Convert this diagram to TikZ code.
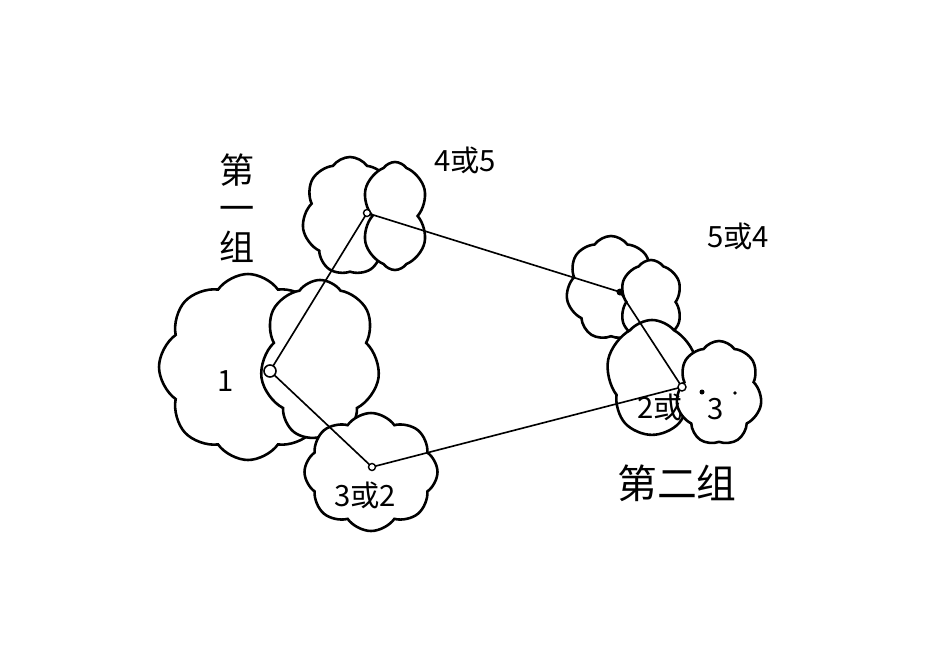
\documentclass[tikz,border=0pt]{standalone}
\usepackage{fontspec}
\newfontfamily\cjk{Noto Sans CJK SC}
\usetikzlibrary{shapes.symbols}
\begin{document}
\begin{tikzpicture}[x=0.03cm,y=-0.03cm,
    crown/.style 2 args={cloud,cloud puffs=7,cloud puff arc=110,draw,line width=2.2pt,
      fill=white,inner sep=0pt,minimum width=#1*0.03cm,minimum height=#2*0.03cm},
    link/.style={line width=1.4pt},
    lbl/.style={font=\cjk\fontsize{25}{28}\selectfont},
    grp/.style={font=\cjk\fontsize{34}{36}\selectfont,inner sep=0pt}]
  \useasboundingbox (0,0) rectangle (942,666);
  % first group
  \node[crown={178}{186},cloud puffs=8] (c1b) at (248,367) {};
  \node[crown={120}{160}] (c1f) at (320,360) {};
  \node[crown={96}{118}] (c4b) at (350,216) {};
  \node[crown={68}{108},cloud puffs=6] (c4f) at (395,216) {};
  \node[crown={133}{118},cloud puffs=8] (c3) at (371,472) {};
  % second group
  \node[crown={90}{104}] (c5b) at (611,288) {};
  \node[crown={64}{84},cloud puffs=6] (c5f) at (651,302) {};
  \node[crown={92}{114},cloud puffs=5,cloud puff arc=100] (c2b) at (652,377) {};
  \node[crown={86}{104}] (c2f) at (719,393) {};
  % centres
  \coordinate (p1) at (270,371);
  \coordinate (p4) at (367,213);
  \coordinate (p5) at (620,292);
  \coordinate (p2) at (682,387);
  \coordinate (p3) at (372,467);
  \draw[link] (p1)--(p4)--(p5)--(p2)--(p3)--cycle;
  \draw[line width=1.4pt,fill=white] (p1) circle (6);
  \draw[line width=1.2pt,fill=white] (p4) circle (3.5);
  \draw[line width=1.2pt,fill=white] (p3) circle (3.5);
  \draw[line width=1.2pt,fill=white] (p2) circle (4);
  \fill (p5) circle (3.5);
  \fill (702,392) circle (2.5);
  \fill (735,393) circle (1.8);
  % labels
  \node[lbl,font=\cjk\itshape\fontsize{25}{28}\selectfont] (l1) at (226,381) {1};
  \node[lbl] (l45) at (465,160) {4或5};
  \node[lbl] (l54) at (738,236) {5或4};
  \node[lbl] (l32) at (365,495) {3或2};
  \node[lbl] (l23) at (660,407) {2或};
  \node[lbl] (l3) at (716,409) {3};
  \node[grp,align=center,font=\cjk\fontsize{30}{33}\selectfont] (g1) at (237,208) {第\\一\\组};
  \node[grp] (g2) at (677,483) {第二组};
\end{tikzpicture}
\end{document}
